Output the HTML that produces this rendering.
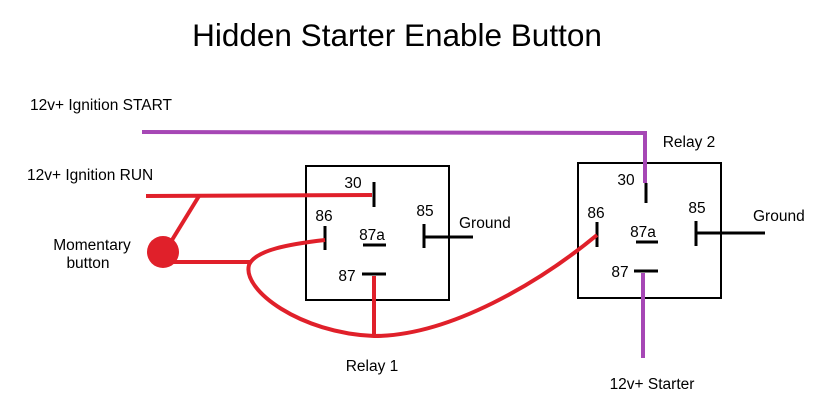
<!DOCTYPE html>
<html><head><style>html,body{margin:0;padding:0;background:#fff}</style></head>
<body>
<svg width="826" height="405" viewBox="0 0 826 405" xmlns="http://www.w3.org/2000/svg" font-family="Liberation Sans, sans-serif" fill="#000">
<text x="397" y="46" font-size="31.5" text-anchor="middle">Hidden Starter Enable Button</text>
<g font-size="15.5">
<text x="30" y="110">12v+ Ignition START</text>
<text x="27" y="180">12v+ Ignition RUN</text>
<text x="92" y="250" text-anchor="middle">Momentary</text>
<text x="88" y="268" text-anchor="middle">button</text>
<text x="353" y="188" text-anchor="middle">30</text>
<text x="324" y="221" text-anchor="middle">86</text>
<text x="372" y="240" text-anchor="middle">87a</text>
<text x="347" y="281" text-anchor="middle">87</text>
<text x="425" y="216" text-anchor="middle">85</text>
<text x="459" y="228">Ground</text>
<text x="372" y="371" text-anchor="middle">Relay 1</text>
<text x="626" y="185" text-anchor="middle">30</text>
<text x="596" y="218" text-anchor="middle">86</text>
<text x="643" y="237" text-anchor="middle">87a</text>
<text x="620" y="277" text-anchor="middle">87</text>
<text x="697" y="213" text-anchor="middle">85</text>
<text x="753" y="221">Ground</text>
<text x="689" y="147" text-anchor="middle">Relay 2</text>
<text x="652" y="389" text-anchor="middle">12v+ Starter</text>
</g>
<g fill="none" stroke="#000" stroke-width="2">
<rect x="306" y="166" width="143" height="134"/>
<rect x="578" y="163" width="143" height="135"/>
</g>
<g stroke="#000" stroke-width="3" fill="none">
<line x1="374" y1="182" x2="374" y2="207"/>
<line x1="325" y1="226" x2="325" y2="250"/>
<line x1="363" y1="245" x2="386" y2="245"/>
<line x1="362" y1="274" x2="386" y2="274"/>
<line x1="424" y1="224" x2="424" y2="248"/>
<line x1="424" y1="237" x2="473" y2="237"/>
<line x1="646" y1="183" x2="646" y2="203"/>
<line x1="597" y1="222" x2="597" y2="247"/>
<line x1="636" y1="242" x2="658" y2="242"/>
<line x1="634" y1="271" x2="658" y2="271"/>
<line x1="696" y1="221" x2="696" y2="246"/>
<line x1="696" y1="233" x2="765" y2="233"/>
</g>
<g stroke="#a647b5" stroke-width="4" fill="none">
<polyline points="142,132 645,133 645,183"/>
<line x1="643" y1="273" x2="643" y2="358"/>
</g>
<g stroke="#e0202a" stroke-width="4" fill="none">
<line x1="146" y1="196" x2="372" y2="195"/>
<line x1="199" y1="196" x2="172" y2="240"/>
<line x1="165" y1="262" x2="250" y2="262"/>
<line x1="374" y1="276" x2="374" y2="335"/>
<path d="M325,240 C290,244 255,250 249,265 C242,290 300,333 374,336 C450,336 540,282 597,235"/>
</g>
<circle cx="163" cy="252" r="16" fill="#e0202a"/>
</svg>
</body></html>
